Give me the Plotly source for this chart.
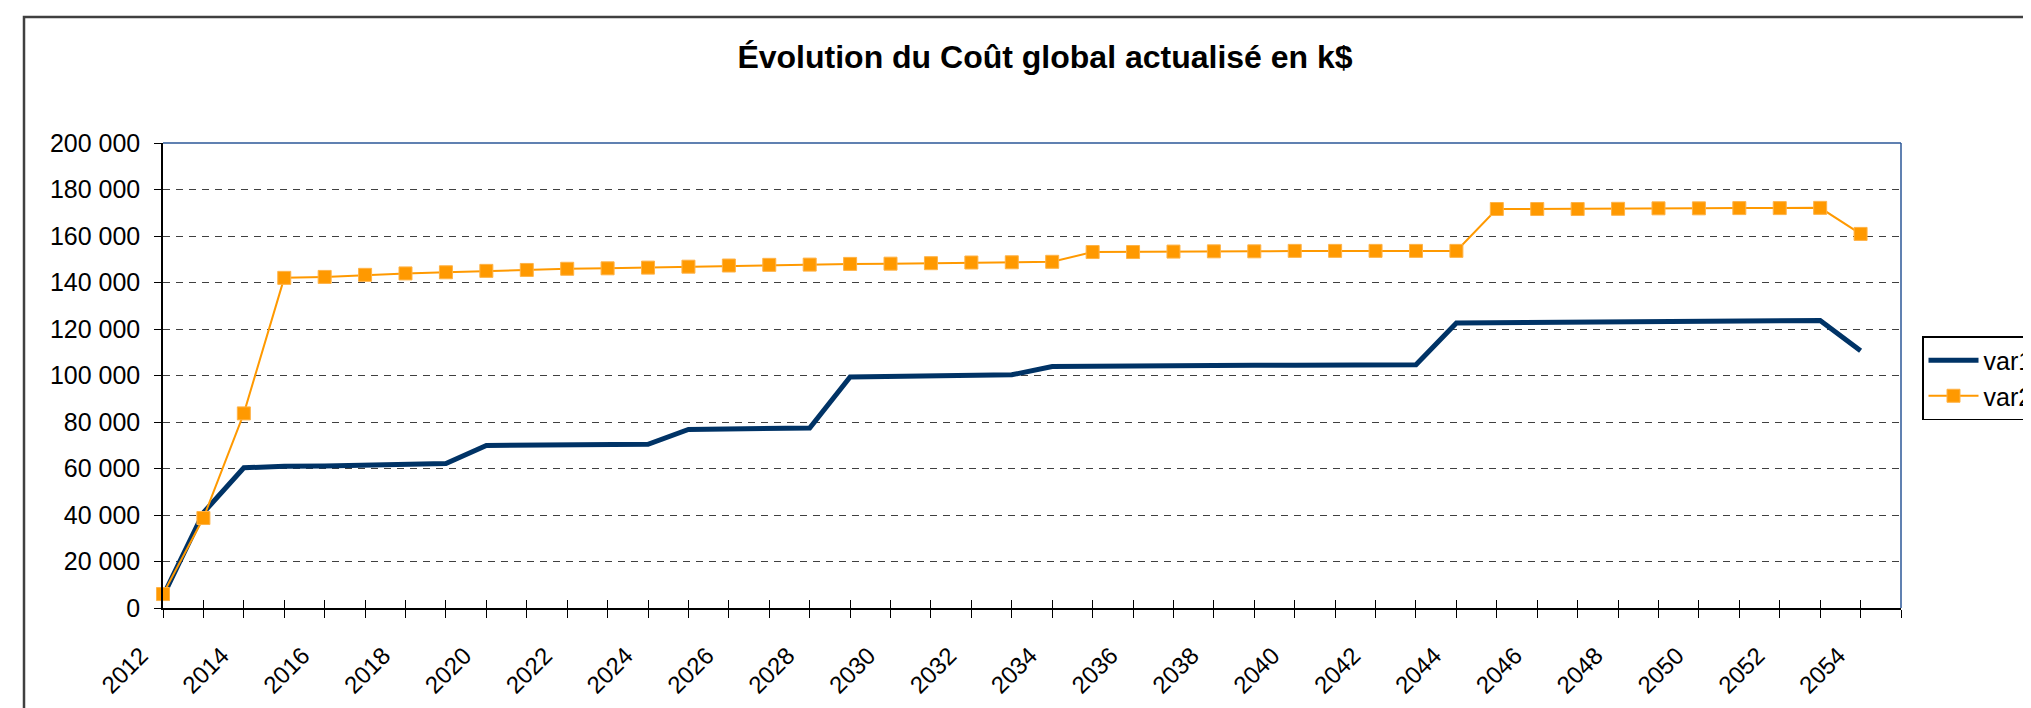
import plotly.graph_objects as go

# ---- data ----
years = list(range(2012, 2055))            # years with values
axis_years = list(range(2012, 2056))       # category slots on the axis
tick_labels = [str(y) if y % 2 == 0 else "" for y in axis_years]

var1 = [5000, 41000, 60300, 61000, 61100, 61400, 61700, 62100, 69900, 70000,
        70100, 70300, 70400, 76800, 77100, 77300, 77400, 99400, 99600, 99700,
        100000, 100300, 103900, 104100, 104100, 104300, 104300, 104400, 104400, 104600,
        104600, 104600, 122600, 122700, 122900, 123000, 123100, 123300, 123300, 123400,
        123600, 123700, 110600]

var2 = [6000, 38700, 83700, 142000, 142400, 143300, 143900, 144400, 145000, 145400,
        145900, 146100, 146400, 146800, 147300, 147600, 147700, 148000, 148100, 148300,
        148600, 148700, 148900, 153100, 153100, 153300, 153400, 153400, 153600, 153600,
        153600, 153600, 153600, 171600, 171600, 171600, 171700, 171900, 171900, 172000,
        172000, 172100, 160900]

title_text = "Évolution du Coût global actualisé en k$"

# ---- layout geometry (pixels) ----
W, H = 2031, 708
L, R, T, B = 155, 1893, 135, 600

def px_x(p):
    return (p - L) / (R - L)

def px_y(p):
    return (B - p) / (B - T)

FONT = "Liberation Sans, Arial, sans-serif"

fig = go.Figure()
fig.add_trace(go.Scatter(
    x=years, y=var1, name="var1", mode="lines", legendgroup="g1",
    line=dict(color="#003366", width=5),
    cliponaxis=False,
))
fig.add_trace(go.Scatter(
    x=years, y=var2, name="var2", mode="lines+markers", legendgroup="g2",
    line=dict(color="#FF9900", width=2),
    marker=dict(symbol="square", size=13, color="#FF9900",
                line=dict(color="#FFB347", width=1)),
    cliponaxis=False,
))

fig.update_layout(
    width=W, height=H,
    margin=dict(l=L, r=W - R, t=T, b=H - B, autoexpand=False),
    paper_bgcolor="white", plot_bgcolor="white",
    separators=", ",
    font=dict(family=FONT, size=24, color="black"),
    title=dict(text="<b>" + title_text + "</b>", x=1037 / W, xanchor="center",
               xref="container", yref="container", y=1 - 49 / H, yanchor="middle",
               font=dict(family=FONT, size=32, color="black")),
    showlegend=True,
    legend=dict(x=px_x(1914), y=px_y(328), xanchor="left", yanchor="top",
                bgcolor="white", bordercolor="black", borderwidth=1.5,
                font=dict(family=FONT, size=25, color="black"),
                tracegroupgap=0, itemwidth=50,
                entrywidth=170, entrywidthmode="pixels"),
    xaxis=dict(
        range=[axis_years[0], axis_years[-1]],
        tickmode="array", tickvals=axis_years, ticktext=tick_labels,
        tickangle=-45, ticks="outside", ticklen=8, tickcolor="black", tickwidth=1,
        ticklabelstandoff=14, ticklabelshift=-22,
        showline=True, linecolor="black", linewidth=2,
        showgrid=False, zeroline=False,
        tickfont=dict(family=FONT, size=24, color="black"),
    ),
    xaxis2=dict(
        range=[axis_years[0], axis_years[-1]], overlaying="x", anchor="y",
        tickmode="array", tickvals=axis_years, showticklabels=False,
        ticks="inside", ticklen=8, tickcolor="black", tickwidth=1,
        showline=False, showgrid=False, zeroline=False,
    ),
    yaxis=dict(
        range=[0, 200000], dtick=20000, tick0=0, tickformat=",d",
        ticks="outside", ticklen=7, tickcolor="black", tickwidth=1,
        ticklabelstandoff=9,
        showline=True, linecolor="black", linewidth=1.5,
        showgrid=True, gridcolor="#404040", gridwidth=1, griddash="7px,6px",
        zeroline=False,
        tickfont=dict(family=FONT, size=25, color="black"),
    ),
)

# empty helper trace so the overlaid axis carrying the inward tick halves is drawn
fig.add_trace(go.Scatter(x=[], y=[], xaxis="x2", showlegend=False, hoverinfo="skip"))

# plot-area border (top and right, blue) and outer chart border
fig.add_shape(type="line", xref="paper", yref="paper", x0=0, x1=1, y0=1, y1=1,
              line=dict(color="#2B5797", width=1.5), layer="below")
fig.add_shape(type="line", xref="paper", yref="paper", x0=1, x1=1, y0=0, y1=1,
              line=dict(color="#2B5797", width=1.5), layer="below")
fig.add_shape(type="rect", xref="paper", yref="paper",
              x0=px_x(16), x1=px_x(2045), y0=px_y(9), y1=px_y(720),
              line=dict(color="#404040", width=2.5), fillcolor="rgba(0,0,0,0)")

fig.write_html("out.html")
